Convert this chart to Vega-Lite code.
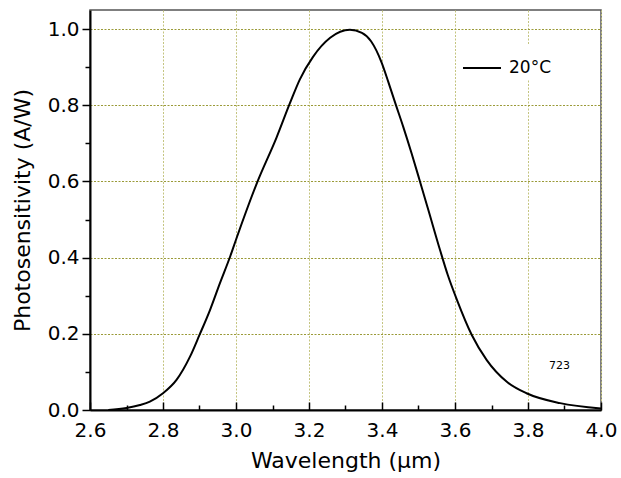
{
  "$schema": "https://vega.github.io/schema/vega-lite/v6.json",
  "width": 511,
  "height": 400,
  "autosize": {"type": "none"},
  "padding": {"left": 90, "top": 10, "right": 20, "bottom": 68},
  "background": "white",
  "config": {
    "view": {"stroke": "#555555", "strokeWidth": 1.5},
    "font": "DejaVu Sans"
  },
  "datasets": {
    "curve": [
      {"wavelength": 2.65, "sens": 0.000, "series": "20°C"},
      {"wavelength": 2.70, "sens": 0.005, "series": "20°C"},
      {"wavelength": 2.737, "sens": 0.013, "series": "20°C"},
      {"wavelength": 2.764, "sens": 0.022, "series": "20°C"},
      {"wavelength": 2.80, "sens": 0.044, "series": "20°C"},
      {"wavelength": 2.837, "sens": 0.079, "series": "20°C"},
      {"wavelength": 2.874, "sens": 0.140, "series": "20°C"},
      {"wavelength": 2.90, "sens": 0.197, "series": "20°C"},
      {"wavelength": 2.929, "sens": 0.263, "series": "20°C"},
      {"wavelength": 2.956, "sens": 0.333, "series": "20°C"},
      {"wavelength": 2.984, "sens": 0.403, "series": "20°C"},
      {"wavelength": 3.00, "sens": 0.447, "series": "20°C"},
      {"wavelength": 3.057, "sens": 0.595, "series": "20°C"},
      {"wavelength": 3.111, "sens": 0.715, "series": "20°C"},
      {"wavelength": 3.148, "sens": 0.806, "series": "20°C"},
      {"wavelength": 3.175, "sens": 0.868, "series": "20°C"},
      {"wavelength": 3.211, "sens": 0.927, "series": "20°C"},
      {"wavelength": 3.258, "sens": 0.977, "series": "20°C"},
      {"wavelength": 3.312, "sens": 0.998, "series": "20°C"},
      {"wavelength": 3.345, "sens": 0.990, "series": "20°C"},
      {"wavelength": 3.370, "sens": 0.968, "series": "20°C"},
      {"wavelength": 3.399, "sens": 0.912, "series": "20°C"},
      {"wavelength": 3.417, "sens": 0.862, "series": "20°C"},
      {"wavelength": 3.438, "sens": 0.801, "series": "20°C"},
      {"wavelength": 3.458, "sens": 0.744, "series": "20°C"},
      {"wavelength": 3.481, "sens": 0.674, "series": "20°C"},
      {"wavelength": 3.504, "sens": 0.600, "series": "20°C"},
      {"wavelength": 3.527, "sens": 0.525, "series": "20°C"},
      {"wavelength": 3.559, "sens": 0.420, "series": "20°C"},
      {"wavelength": 3.580, "sens": 0.355, "series": "20°C"},
      {"wavelength": 3.605, "sens": 0.290, "series": "20°C"},
      {"wavelength": 3.646, "sens": 0.197, "series": "20°C"},
      {"wavelength": 3.687, "sens": 0.131, "series": "20°C"},
      {"wavelength": 3.742, "sens": 0.074, "series": "20°C"},
      {"wavelength": 3.796, "sens": 0.044, "series": "20°C"},
      {"wavelength": 3.888, "sens": 0.018, "series": "20°C"},
      {"wavelength": 4.00, "sens": 0.004, "series": "20°C"}
    ],
    "notes": [{"wavelength": 3.886, "sens": 0.1156, "note": "723"}]
  },
  "resolve": {"axis": {"x": "independent", "y": "independent"}},
  "layer": [
    {
      "data": {"name": "curve"},
      "mark": {"type": "line", "interpolate": "monotone", "strokeWidth": 2, "clip": true},
      "encoding": {
        "x": {
          "field": "wavelength", "type": "quantitative",
          "scale": {"domain": [2.6, 4.0], "nice": false, "zero": false},
          "axis": {
            "orient": "bottom",
            "title": "Wavelength (μm)",
            "titleFont": "DejaVu Sans", "titleFontSize": 22, "titleFontWeight": "normal", "titleColor": "black",
            "titlePadding": 10,
            "values": [2.6, 2.8, 3.0, 3.2, 3.4, 3.6, 3.8, 4.0],
            "format": ".1f",
            "labelFont": "DejaVu Sans", "labelFontSize": 20, "labelColor": "black",
            "labelPadding": 10, "labelFlush": false, "labelOverlap": false,
            "domainColor": "black", "domainWidth": 2,
            "ticks": false, "tickSize": 0,
            "grid": true,
            "gridColor": "#c4c480", "gridDash": [2, 1.5], "gridWidth": 1
          }
        },
        "y": {
          "field": "sens", "type": "quantitative",
          "scale": {"domain": [0, 1.05], "nice": false},
          "axis": {
            "orient": "left",
            "title": "Photosensitivity (A/W)",
            "titleFont": "DejaVu Sans", "titleFontSize": 22, "titleFontWeight": "normal", "titleColor": "black",
            "titlePadding": 13,
            "values": [0, 0.2, 0.4, 0.6, 0.8, 1.0],
            "format": ".1f",
            "labelFont": "DejaVu Sans", "labelFontSize": 20, "labelColor": "black",
            "labelPadding": 11, "labelFlush": false, "labelOverlap": false,
            "domainColor": "black", "domainWidth": 2,
            "ticks": false, "tickSize": 0,
            "grid": true,
            "gridColor": "#9a9a38", "gridDash": [2, 1.5], "gridWidth": 1
          }
        },
        "color": {
          "field": "series", "type": "nominal",
          "scale": {"range": ["black"]},
          "legend": {
            "title": null,
            "orient": "none",
            "legendX": 369,
            "legendY": 35,
            "padding": 3,
            "fillColor": "white",
            "symbolType": "stroke",
            "symbolSize": 1444,
            "symbolStrokeWidth": 2,
            "labelFont": "DejaVu Sans",
            "labelFontSize": 17,
            "labelColor": "black",
            "labelOffset": 7
          }
        }
      }
    },
    {
      "data": {"name": "notes"},
      "mark": {"type": "text", "fontSize": 11, "font": "DejaVu Sans", "color": "black", "align": "center", "baseline": "middle"},
      "encoding": {
        "x": {
          "field": "wavelength", "type": "quantitative",
          "axis": {
            "orient": "bottom", "title": null, "labels": false, "domain": false, "grid": false,
            "values": [2.6002, 2.8002, 3.0002, 3.2002, 3.4002, 3.6002, 3.8002, 3.9998],
            "ticks": true, "tickColor": "black", "tickWidth": 1.5, "tickSize": -8
          }
        },
        "y": {
          "field": "sens", "type": "quantitative",
          "axis": {
            "orient": "left", "title": null, "labels": false, "domain": false, "grid": false,
            "values": [0.0002, 0.2002, 0.4002, 0.6002, 0.8002, 0.9998],
            "ticks": true, "tickColor": "black", "tickWidth": 1.5, "tickSize": 8
          }
        },
        "text": {"field": "note"}
      }
    },
    {
      "data": {"name": "curve"},
      "mark": {"type": "line", "interpolate": "monotone", "strokeWidth": 2, "opacity": 0, "clip": true},
      "encoding": {
        "x": {
          "field": "wavelength", "type": "quantitative",
          "axis": {
            "orient": "bottom", "title": null, "labels": false, "domain": false, "grid": false,
            "values": [2.7, 2.9, 3.1, 3.3, 3.5, 3.7, 3.9],
            "ticks": true, "tickColor": "black", "tickWidth": 1.5, "tickSize": -5
          }
        },
        "y": {
          "field": "sens", "type": "quantitative",
          "axis": {
            "orient": "left", "title": null, "labels": false, "domain": false, "grid": false,
            "values": [0.1, 0.3, 0.5, 0.7, 0.9],
            "ticks": true, "tickColor": "black", "tickWidth": 1.5, "tickSize": 5
          }
        }
      }
    }
  ]
}
